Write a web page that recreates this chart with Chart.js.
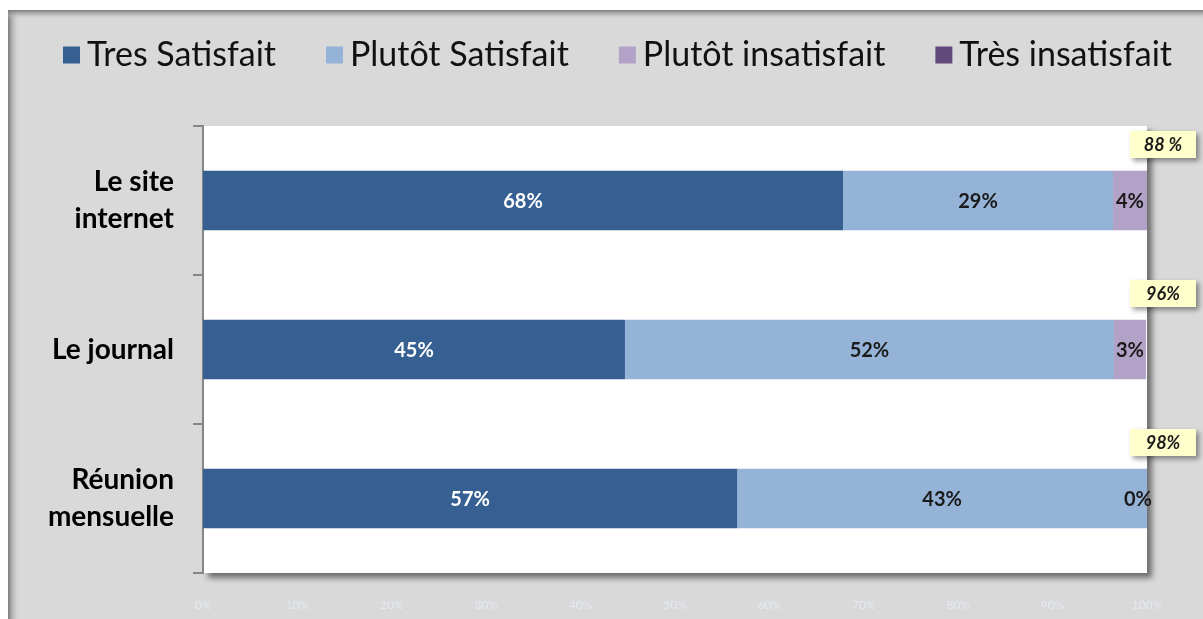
<!DOCTYPE html>
<html>
<head>
<meta charset="utf-8">
<script src="https://cdn.jsdelivr.net/npm/chart.js@4.4.1/dist/chart.umd.min.js"></script>
<style>
  html, body { margin: 0; padding: 0; background: #fff; }
  #wrap { width: 1203px; height: 619px; }
</style>
</head>
<body>
<div id="wrap"><canvas id="chart"></canvas></div>
<script>
const categories = [['Le site', 'internet'], 'Le journal', ['Réunion', 'mensuelle']];
const tresSatisfait = [67.8, 44.7, 56.6];
const plutotSatisfait = [28.6, 51.8, 43.4];
const plutotInsatisfait = [3.6, 3.4, 0];
const tresInsatisfait = [0, 0, 0];
const totals = ['88 %', '96%', '98%'];
const xTicks = [0, 10, 20, 30, 40, 50, 60, 70, 80, 90, 100];

const FONT = 'Lato, "Open Sans", sans-serif';

// grey frame + white plot area with drop shadow
const background = {
    id: 'background',
    beforeDraw: chart => {
        const ctx = chart.ctx;
        const a = chart.chartArea;
        ctx.save();
        ctx.fillStyle = '#ffffff';
        ctx.fillRect(0, 0, chart.width, chart.height);
        ctx.fillStyle = '#d9d9d9';
        ctx.fillRect(8, 10, chart.width, chart.height);
        let g = ctx.createLinearGradient(8, 0, 20, 0);
        g.addColorStop(0, '#7a7a7a');
        g.addColorStop(1, 'rgba(217,217,217,0)');
        ctx.fillStyle = g;
        ctx.fillRect(8, 10, 12, chart.height);
        g = ctx.createLinearGradient(0, 10, 0, 20);
        g.addColorStop(0, '#7a7a7a');
        g.addColorStop(1, 'rgba(217,217,217,0)');
        ctx.fillStyle = g;
        ctx.fillRect(8, 10, chart.width, 10);

        ctx.shadowColor = 'rgba(0,0,0,0.5)';
        ctx.shadowBlur = 6;
        ctx.shadowOffsetX = 5;
        ctx.shadowOffsetY = 5;
        ctx.fillStyle = '#ffffff';
        ctx.fillRect(a.left, a.top, a.right - a.left, a.bottom - a.top);
        ctx.restore();
    }
};

// legend row across the top, drawn from the datasets
const legendRow = {
    id: 'legendRow',
    afterDraw: chart => {
        const ctx = chart.ctx;
        const box = 17, gap = 7, spacing = 50, y = 55;
        ctx.save();
        ctx.font = '34px ' + FONT;
        ctx.textBaseline = 'middle';
        ctx.textAlign = 'left';
        const items = chart.data.datasets.map(ds => ({
            text: ds.label,
            color: ds.backgroundColor,
            w: box + gap + ctx.measureText(ds.label).width
        }));
        const total = items.reduce((s, it) => s + it.w, 0) + spacing * (items.length - 1);
        let x = (88 + chart.chartArea.right) / 2 - total / 2;
        items.forEach(it => {
            ctx.fillStyle = it.color;
            ctx.fillRect(x, y - box / 2, box, box);
            ctx.fillStyle = '#111';
            ctx.fillText(it.text, x + box + gap, y);
            x += it.w + spacing;
        });
        ctx.restore();
    }
};

// percentage labels in the bars + yellow total callouts
const labels = {
    id: 'labels',
    afterDatasetsDraw: chart => {
        const ctx = chart.ctx;
        const a = chart.chartArea;
        ctx.save();
        ctx.font = 'bold 20px ' + FONT;
        ctx.textBaseline = 'middle';
        ctx.textAlign = 'center';
        chart.data.datasets.forEach((ds, i) => {
            if (!ds.showLabels) return;
            chart.getDatasetMeta(i).data.forEach((bar, j) => {
                const txt = Math.round(ds.data[j]) + '%';
                const w = ctx.measureText(txt).width;
                let x = (bar.x + bar.base) / 2;
                x = Math.min(x, a.right + 5 - w / 2);
                ctx.fillStyle = i === 0 ? '#ffffff' : '#1a1a1a';
                ctx.fillText(txt, x, bar.y + 1);
            });
        });

        const yScale = chart.scales.y;
        ctx.font = 'italic bold 18px ' + FONT;
        totals.forEach((t, j) => {
            const cx = a.right + 16;
            const cy = yScale.getPixelForValue(j) - 56;
            const w = 66, h = 27;
            ctx.save();
            ctx.shadowColor = 'rgba(0,0,0,0.4)';
            ctx.shadowBlur = 5;
            ctx.shadowOffsetX = 3;
            ctx.shadowOffsetY = 3;
            ctx.fillStyle = '#ffffcc';
            ctx.fillRect(cx - w / 2, cy - h / 2, w, h);
            ctx.restore();
            ctx.fillStyle = '#1a1a1a';
            ctx.fillText(t, cx, cy + 1);
        });
        ctx.restore();
    }
};

new Chart(document.getElementById('chart'), {
    type: 'bar',
    data: {
        labels: categories,
        datasets: [
            { label: 'Tres Satisfait', data: tresSatisfait, backgroundColor: '#376092', showLabels: true },
            { label: 'Plutôt Satisfait', data: plutotSatisfait, backgroundColor: '#95b3d7', showLabels: true },
            { label: 'Plutôt insatisfait', data: plutotInsatisfait, backgroundColor: '#b3a2c7', showLabels: true },
            { label: 'Très insatisfait', data: tresInsatisfait, backgroundColor: '#604a7b', showLabels: false }
        ]
    },
    options: {
        indexAxis: 'y',
        responsive: true,
        maintainAspectRatio: false,
        animation: false,
        layout: { padding: { left: 0, right: 56, top: 126, bottom: 0 } },
        datasets: { bar: { barPercentage: 0.4, categoryPercentage: 1 } },
        plugins: {
            tooltip: { enabled: false },
            legend: { display: false }
        },
        scales: {
            x: {
                stacked: true,
                min: 0,
                max: 100,
                afterBuildTicks: s => { s.ticks = xTicks.map(v => ({ value: v })); },
                grid: { display: false },
                border: { display: false },
                ticks: {
                    padding: 17,
                    color: '#e4e9f1',
                    font: { family: FONT, size: 12 },
                    callback: v => v + '%'
                },
                afterFit: s => { s.height = 46; }
            },
            y: {
                stacked: true,
                grid: { drawOnChartArea: false, tickLength: 10, color: '#868686', lineWidth: 2 },
                border: { color: '#868686', width: 2 },
                ticks: {
                    padding: 19,
                    color: '#000',
                    font: { family: FONT, size: 28, weight: 'bold', lineHeight: 1.3 }
                },
                afterFit: s => {
                    s.width = 203;
                    s.paddingTop = 0;
                    s.paddingBottom = 0;
                }
            }
        }
    },
    plugins: [background, legendRow, labels]
});
</script>
</body>
</html>
